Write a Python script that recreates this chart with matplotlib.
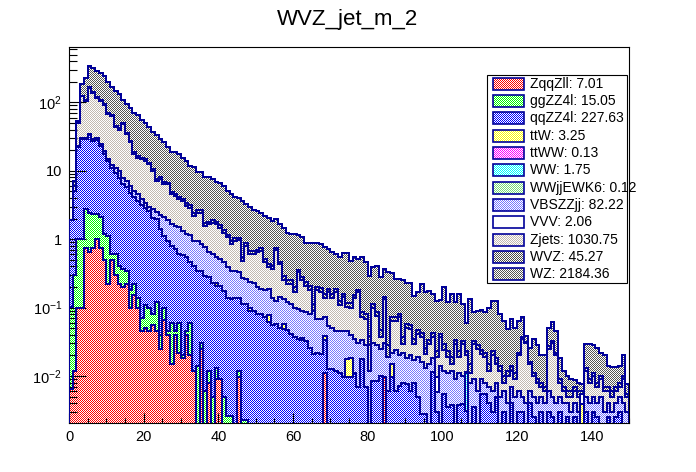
import numpy as np
import matplotlib
matplotlib.use("Agg")
import matplotlib.pyplot as plt
import matplotlib.colors as mcolors
from matplotlib.image import FigureImage
from matplotlib.patches import Rectangle
from matplotlib.transforms import IdentityTransform
from matplotlib.ticker import MultipleLocator, LogLocator, NullFormatter

plt.rcParams['font.family'] = ['Liberation Sans', 'DejaVu Sans']
plt.rcParams['mathtext.fontset'] = 'custom'
plt.rcParams['mathtext.rm'] = 'Liberation Sans'
plt.rcParams['mathtext.it'] = 'Liberation Sans:italic'

# 150 bins of width 1 between 0 and 150
bin_edges = np.arange(0, 151, 1)

# per-bin contents (stack order, bottom first)
ZqqZll = [0.0065, 0.012, 0.1, 0.1, 0.75, 0.65, 0.75, 1.0, 0.75, 0.5,
          0.22, 0.5, 0.3, 0.22, 0.2, 0.22, 0.1, 0.15, 0.1, 0.045,
          0.05, 0.045, 0.055, 0.045, 0.025, 0.065, 0.04, 0.015, 0.04, 0.022,
          0.018, 0.04, 0.02, 0.012, 0, 0.025, 0, 0.008, 0, 0.009,
          0.009, 0, 0, 0, 0, 0.0095, 0, 0, 0, 0,
          0, 0, 0, 0, 0, 0, 0, 0, 0, 0,
          0, 0, 0, 0, 0, 0, 0, 0, 0.011, 0,
          0, 0, 0, 0, 0, 0, 0, 0, 0, 0,
          0, 0, 0, 0, 0.0095, 0, 0, 0, 0, 0,
          0, 0, 0, 0, 0, 0, 0, 0, 0, 0,
          0, 0, 0, 0, 0, 0, 0, 0, 0, 0,
          0, 0, 0, 0, 0, 0, 0, 0, 0, 0,
          0, 0, 0, 0, 0, 0, 0, 0, 0, 0,
          0, 0, 0, 0, 0, 0, 0, 0, 0, 0,
          0, 0, 0, 0, 0, 0, 0, 0, 0, 0]

ggZZ4l = [0.094, 0.29, 0.9, 0.9, 2.05, 1.75, 1.55, 1.3, 1.35, 0.7,
          0.88, 0.1, 0.3, 0.18, 0.16, 0.12, 0.08, 0.07, 0.04, 0.025,
          0.06, 0.055, 0.025, 0.075, 0.015, 0.035, 0.005, 0.045, 0.005, 0.038,
          0.002, 0.005, 0.04, 0, 0.014, 0.005, 0.006, 0.004, 0.005, 0.004,
          0, 0.005, 0.0026, 0.0026, 0, 0.0025, 0.0023, 0.0023, 0, 0,
          0, 0, 0, 0, 0, 0, 0, 0, 0, 0,
          0, 0, 0, 0, 0, 0, 0, 0, 0, 0,
          0, 0, 0, 0, 0, 0, 0, 0, 0, 0,
          0, 0, 0, 0, 0, 0, 0, 0, 0, 0,
          0, 0, 0, 0, 0, 0, 0, 0, 0, 0,
          0, 0, 0, 0, 0, 0, 0, 0, 0, 0,
          0, 0, 0, 0, 0, 0, 0, 0, 0, 0,
          0, 0, 0, 0, 0, 0, 0, 0, 0, 0,
          0, 0, 0, 0, 0, 0, 0, 0, 0, 0,
          0, 0, 0, 0, 0, 0, 0, 0, 0, 0]

qqZZ4l = [1.8, 4.7, 21, 28, 26.2, 31.6, 24.7, 25.7, 20.9, 16.2,
          12.8, 10.5, 8.8, 7.5, 5.94, 5.36, 4.62, 3.88, 3.46, 3.13,
          2.79, 2.5, 1.99, 1.84, 1.36, 1.02, 0.905, 0.74, 0.665, 0.54,
          0.57, 0.495, 0.4, 0.398, 0.326, 0.31, 0.284, 0.263, 0.225, 0.197,
          0.201, 0.171, 0.137, 0.13, 0.14, 0.128, 0.11, 0.11, 0.09, 0.09,
          0.08, 0.08, 0.072, 0.061, 0.055, 0.057, 0.051, 0.049, 0.047, 0.041,
          0.037, 0.035, 0.033, 0.032, 0.026, 0.021, 0.022, 0.021, 0.023, 0.0126,
          0.0126, 0.012, 0.011, 0.0095, 0.0095, 0.0095, 0.011, 0.0068, 0.0177, 0.0068,
          0, 0.0085, 0.0085, 0.010, 0, 0.0061, 0.0095, 0.0061, 0.0072, 0.008,
          0.0076, 0.0061, 0.008, 0.0049, 0.0028, 0.0028, 0, 0.0113, 0.003, 0,
          0.0055, 0.0035, 0.0037, 0, 0.0037, 0.0039, 0.0031, 0, 0.0035, 0,
          0.0055, 0.0055, 0.004, 0.003, 0.005, 0, 0.003, 0.002, 0.004, 0,
          0.003, 0.003, 0, 0.004, 0.0025, 0, 0.003, 0, 0.003, 0.0025,
          0, 0.003, 0, 0.0025, 0, 0.0025, 0, 0, 0.003, 0,
          0.003, 0.0025, 0, 0, 0.0025, 0, 0.0025, 0.003, 0, 0]

ttW_bins = [39, 48, 53, 57, 62, 68, 74, 75, 86, 137]
ttW_vals = [0.015, 0.01, 0.016, 0.008, 0.003, 0.004, 0.008, 0.009, 0.0055, 0.0039]
ttWW_bins = []
ttWW_vals = []
WW_bins = [106]
WW_vals = [0.008]
WWjjEWK6_bins = []
WWjjEWK6_vals = []

VBSZZjj = [0, 0, 1, 1, 1, 1, 2, 2, 2, 2.1,
           0.8, 1.1, 1.7, 2.0, 1.6, 1.3, 1.2, 1.0, 0.9, 0.7,
           0.5, 0.4, 0.73, 0.54, 0.87, 0.98, 0.95, 0.86, 0.84, 0.9,
           0.73, 0.66, 0.69, 0.54, 0.61, 0.51, 0.47, 0.365, 0.37, 0.315,
           0.30, 0.284, 0.25, 0.207, 0.2, 0.19, 0.158, 0.148, 0.14, 0.135,
           0.12, 0.106, 0.108, 0.109, 0.083, 0.069, 0.093, 0.076, 0.072, 0.071,
           0.063, 0.06, 0.054, 0.053, 0.054, 0.069, 0.046, 0.047, 0.034, 0.041,
           0.038, 0.034, 0.034, 0.036, 0.028, 0.0215, 0.024, 0.0232, 0.0153, 0.0212,
           0.012, 0.0215, 0.0195, 0.015, 0.0205, 0.0129, 0.007, 0.0179, 0.0128, 0.014,
           0.0104, 0.0139, 0.009, 0.0141, 0.0132, 0.0102, 0.015, 0.0067, 0.0028, 0.014,
           0.0065, 0.0075, 0.0083, 0.009, 0.0073, 0.0061, 0.0002, 0.008, 0.0055, 0.006,
           0.0035, 0.0025, 0.003, 0.003, 0.003, 0.005, 0.003, 0.002, 0.003, 0.005,
           0.003, 0.002, 0.004, 0.002, 0.0025, 0.004, 0.002, 0.004, 0.003, 0.0025,
           0.004, 0.002, 0.004, 0.0015, 0.003, 0.0015, 0.003, 0, 0.002, 0.004,
           0.002, 0.0015, 0.005, 0.003, 0.0015, 0.003, 0.0015, 0.002, 0.004, 0.003]

VVV_bins = [98, 137]
VVV_vals = [0.0037, 0.0016]

Zjets = [0, 1.0, 27, 94, 75, 129, 109, 87, 80, 73.5,
         52.3, 50.8, 32.9, 30.1, 40.1, 27, 20, 12.3, 11.1, 10.8,
         10.5, 9.4, 7.2, 4.6, 5.23, 4.2, 4.4, 2.84, 2.75, 2.3,
         2.28, 1.9, 1.75, 1.25, 1.5, 1.6, 0.81, 1.02, 1.15, 1.12,
         0.97, 0.79, 0.67, 0.51, 0.61, 0.64, 0.21, 0.54, 0.36, 0.375,
         0.44, 0.494, 0.28, 0.204, 0.222, 0.574, 0.286, 0.117, 0.101, 0.108,
         0.07, 0.235, 0.16, 0.125, 0.10, 0, 0.112, 0.102, 0.068, 0.116,
         0.089, 0.124, 0.065, 0.095, 0.055, 0.06, 0.105, 0.136, 0.039, 0.04,
         0.016, 0.07, 0.048, 0.012, 0.103, 0, 0.042, 0.04, 0.052, 0.007,
         0.033, 0.028, 0.012, 0.022, 0.021, 0.008, 0.014, 0.019, 0.0095, 0.023,
         0.012, 0.008, 0.003, 0.02, 0.008, 0.019, 0.0087, 0.003, 0.02, 0.019,
         0.012, 0.011, 0.005, 0.014, 0.007, 0.007, 0.002, 0.006, 0.005, 0.004,
         0.014, 0.03, 0.026, 0.009, 0.005, 0.004, 0.002, 0.002, 0.019, 0.025,
         0.016, 0.003, 0.002, 0.001, 0.002, 0.002, 0.002, 0, 0.007, 0.004,
         0.005, 0.003, 0.004, 0.003, 0.002, 0.002, 0.002, 0.002, 0.005, 0.002]

WVZ = [0, 0.05, 0.4, 1.5, 2, 3, 3, 3, 2.8, 2.5,
       2.2, 2, 1.8, 1.6, 1.5, 1.3, 1.2, 1.1, 1.0, 0.9,
       0.8, 0.7, 0.6, 0.55, 0.5, 0.45, 0.4, 0.36, 0.34, 0.3,
       0.28, 0.25, 0.23, 0.21, 0.19, 0.18, 0.16, 0.15, 0.14, 0.13,
       0.12, 0.11, 0.10, 0.09, 0.085, 0.08, 0.075, 0.07, 0.065, 0.06,
       0.055, 0.05, 0.048, 0.045, 0.042, 0.04, 0.038, 0.035, 0.033, 0.031,
       0.03, 0.028, 0.027, 0.025, 0.024, 0.023, 0.022, 0.021, 0.02, 0.019,
       0.018, 0.017, 0.016, 0.016, 0.015, 0.015, 0.014, 0.013, 0.013, 0.012,
       0.01, 0.011, 0.011, 0.01, 0.01, 0.009, 0.009, 0.008, 0.008, 0.008,
       0.007, 0.007, 0.006, 0.006, 0.006, 0.005, 0.005, 0.005, 0.004, 0.004,
       0.005, 0.004, 0.004, 0.004, 0.004, 0.003, 0.003, 0.004, 0.003, 0.003,
       0.003, 0.003, 0.003, 0.003, 0.003, 0.002, 0.002, 0.002, 0.002, 0.002,
       0.002, 0.002, 0.001, 0.001, 0.001, 0.001, 0.001, 0.001, 0.002, 0.002,
       0.002, 0.001, 0.001, 0.001, 0.001, 0.001, 0.001, 0.0005, 0.001, 0.001,
       0.001, 0.001, 0.001, 0.001, 0.001, 0.001, 0.001, 0.001, 0.001, 0.0005]

WZ = [0, 0.95, 2.6, 61.5, 122, 172, 173, 168, 162, 146.5,
      130, 102, 100, 89.4, 60.5, 60.7, 56.8, 52.5, 48.4, 40.4,
      35.3, 29.9, 26.4, 25.35, 21, 19.25, 15.3, 14.14, 14.36, 13.3,
      11.72, 10.55, 8.67, 8.99, 7.06, 7.07, 6.37, 6.29, 5.61, 5.11,
      5.10, 4.64, 3.94, 3.56, 3.07, 2.95, 3.05, 2.43, 2.24, 2.04,
      1.905, 1.67, 1.692, 1.635, 1.448, 1.22, 1.192, 1.195, 0.997, 0.929,
      0.98, 0.792, 0.803, 0.655, 0.686, 0.777, 0.688, 0.659, 0.60, 0.521,
      0.502, 0.413, 0.414, 0.464, 0.505, 0.365, 0.386, 0.331, 0.455, 0.38,
      0.252, 0.279, 0.323, 0.233, 0.217, 0.302, 0.247, 0.188, 0.18, 0.213,
      0.167, 0.175, 0.114, 0.119, 0.177, 0.14, 0.142, 0.118, 0.103, 0.087,
      0.168, 0.096, 0.141, 0.086, 0.137, 0.08, 0.037, 0.118, 0.053, 0.062,
      0.069, 0.063, 0.085, 0.103, 0.108, 0.067, 0.054, 0.037, 0.054, 0.04,
      0.042, 0.035, 0.008, 0.01, 0.024, 0.019, 0.012, 0.013, 0.024, 0.03,
      0.024, 0.009, 0.005, 0.004, 0.003, 0.0016, 0.002, 0.0016, 0.016, 0.02,
      0.017, 0.018, 0.012, 0.013, 0.007, 0.0073, 0.0063, 0.006, 0.01, 0.0021]

names = ['ZqqZll', 'ggZZ4l', 'qqZZ4l', 'ttW', 'ttWW', 'WW', 'WWjjEWK6',
         'VBSZZjj', 'VVV', 'Zjets', 'WVZ', 'WZ']
yields = ['7.01', '15.05', '227.63', '3.25', '0.13', '1.75', '0.12',
          '82.22', '2.06', '1030.75', '45.27', '2184.36']
colors = ['#ff0000', '#00ff00', '#0000ff', '#ffff00', '#ff00ff', '#00ffff',
          '#77dd77', '#7777ff', '#ffffff', '#c2b9b0', '#4a4a4a', '#555555']
line_color = '#000099'

y_ticks = [0.01, 0.1, 1, 10, 100]
y_labels = ['$10^{-2}$', '$10^{-1}$', '1', '10', '$10^{2}$']


def sparse(bins, vals):
    a = np.zeros(len(bin_edges) - 1)
    a[bins] = vals
    return a


stack = np.vstack([ZqqZll, ggZZ4l, qqZZ4l,
                   sparse(ttW_bins, ttW_vals), sparse(ttWW_bins, ttWW_vals),
                   sparse(WW_bins, WW_vals), sparse(WWjjEWK6_bins, WWjjEWK6_vals),
                   VBSZZjj, sparse(VVV_bins, VVV_vals), Zjets, WVZ, WZ])
tops = np.cumsum(stack, axis=0)
bottoms = np.vstack([np.zeros(stack.shape[1]), tops[:-1]])
FLOOR = 1e-5  # stand-in for zero on the log axis

W, H = 696, 472
fig = plt.figure(figsize=(W / 100, H / 100), dpi=100)
ax = fig.add_axes([69 / W, 1 - 423 / H, 560 / W, 376 / H])
ax.set_yscale('log')

# ROOT style 3001 fill: one-pixel checkerboard of colour and white
yy, xx = np.mgrid[0:H, 0:W]
checker_mask = (xx + yy) % 2 == 0


def checker(color, mask):
    img = np.ones(mask.shape + (4,))
    img[mask, :3] = mcolors.to_rgb(color)
    return img


for i in range(len(names)):
    patch = ax.stairs(np.maximum(tops[i], FLOOR), bin_edges,
                      baseline=np.maximum(bottoms[i], FLOOR), fill=True,
                      facecolor='none', edgecolor=line_color, linewidth=1.1,
                      antialiased=False, zorder=3)
    tex = FigureImage(fig, origin='upper', interpolation='nearest', zorder=1)
    tex.set_data(checker(colors[i], checker_mask))
    tex.set_transform(IdentityTransform())  # keep the texture in figure pixels
    ax.add_artist(tex)
    tex.set_clip_path(patch)

ax.set_xlim(0, 150)
ax.set_ylim(0.00205, 645)
ax.xaxis.set_major_locator(MultipleLocator(20))
ax.xaxis.set_minor_locator(MultipleLocator(5))
ax.set_yticks(y_ticks, y_labels)
ax.yaxis.set_minor_locator(LogLocator(base=10, subs=np.arange(2, 10)))
ax.yaxis.set_minor_formatter(NullFormatter())
ax.tick_params(which='both', direction='in', top=False, right=False,
               width=0.8, labelsize=10.5, colors='black')
ax.tick_params(axis='x', which='major', length=7.5, pad=5)
ax.tick_params(axis='x', which='minor', length=3.7)
ax.tick_params(axis='y', which='major', length=12, pad=5)
ax.tick_params(axis='y', which='minor', length=6)
for sp in ax.spines.values():
    sp.set_linewidth(0.8)

fig.text(0.5, 1 - 20 / H, 'WVZ_jet_m_2', ha='center', va='center', fontsize=16)

# legend box, drawn ROOT-like in figure pixels
lx0, lx1, ly0, ly1 = 487, 627, 75, 283
fig.add_artist(Rectangle((lx0 / W, 1 - ly1 / H), (lx1 - lx0) / W, (ly1 - ly0) / H,
                         transform=fig.transFigure, facecolor='white',
                         edgecolor='black', linewidth=0.8, zorder=4))
row_h = (ly1 - ly0) / len(names)
sx0, sw, sh = 493, 31, 12
for i, name in enumerate(names):
    cy = ly0 + row_h * (i + 0.5)
    sy = int(round(cy - sh / 2))
    fig.figimage(checker(colors[i], checker_mask[sy:sy + sh, sx0:sx0 + sw]),
                 xo=sx0, yo=H - sy - sh, origin='upper', zorder=5,
                 interpolation='nearest')
    fig.add_artist(Rectangle((sx0 / W, 1 - (sy + sh) / H), sw / W, sh / H,
                             transform=fig.transFigure, facecolor='none',
                             edgecolor=line_color, linewidth=1.2, zorder=6))
    fig.text(530 / W, 1 - cy / H, f'{name}: {yields[i]}', ha='left',
             va='center', fontsize=10, zorder=7)

fig.savefig('out.png', dpi=100)
